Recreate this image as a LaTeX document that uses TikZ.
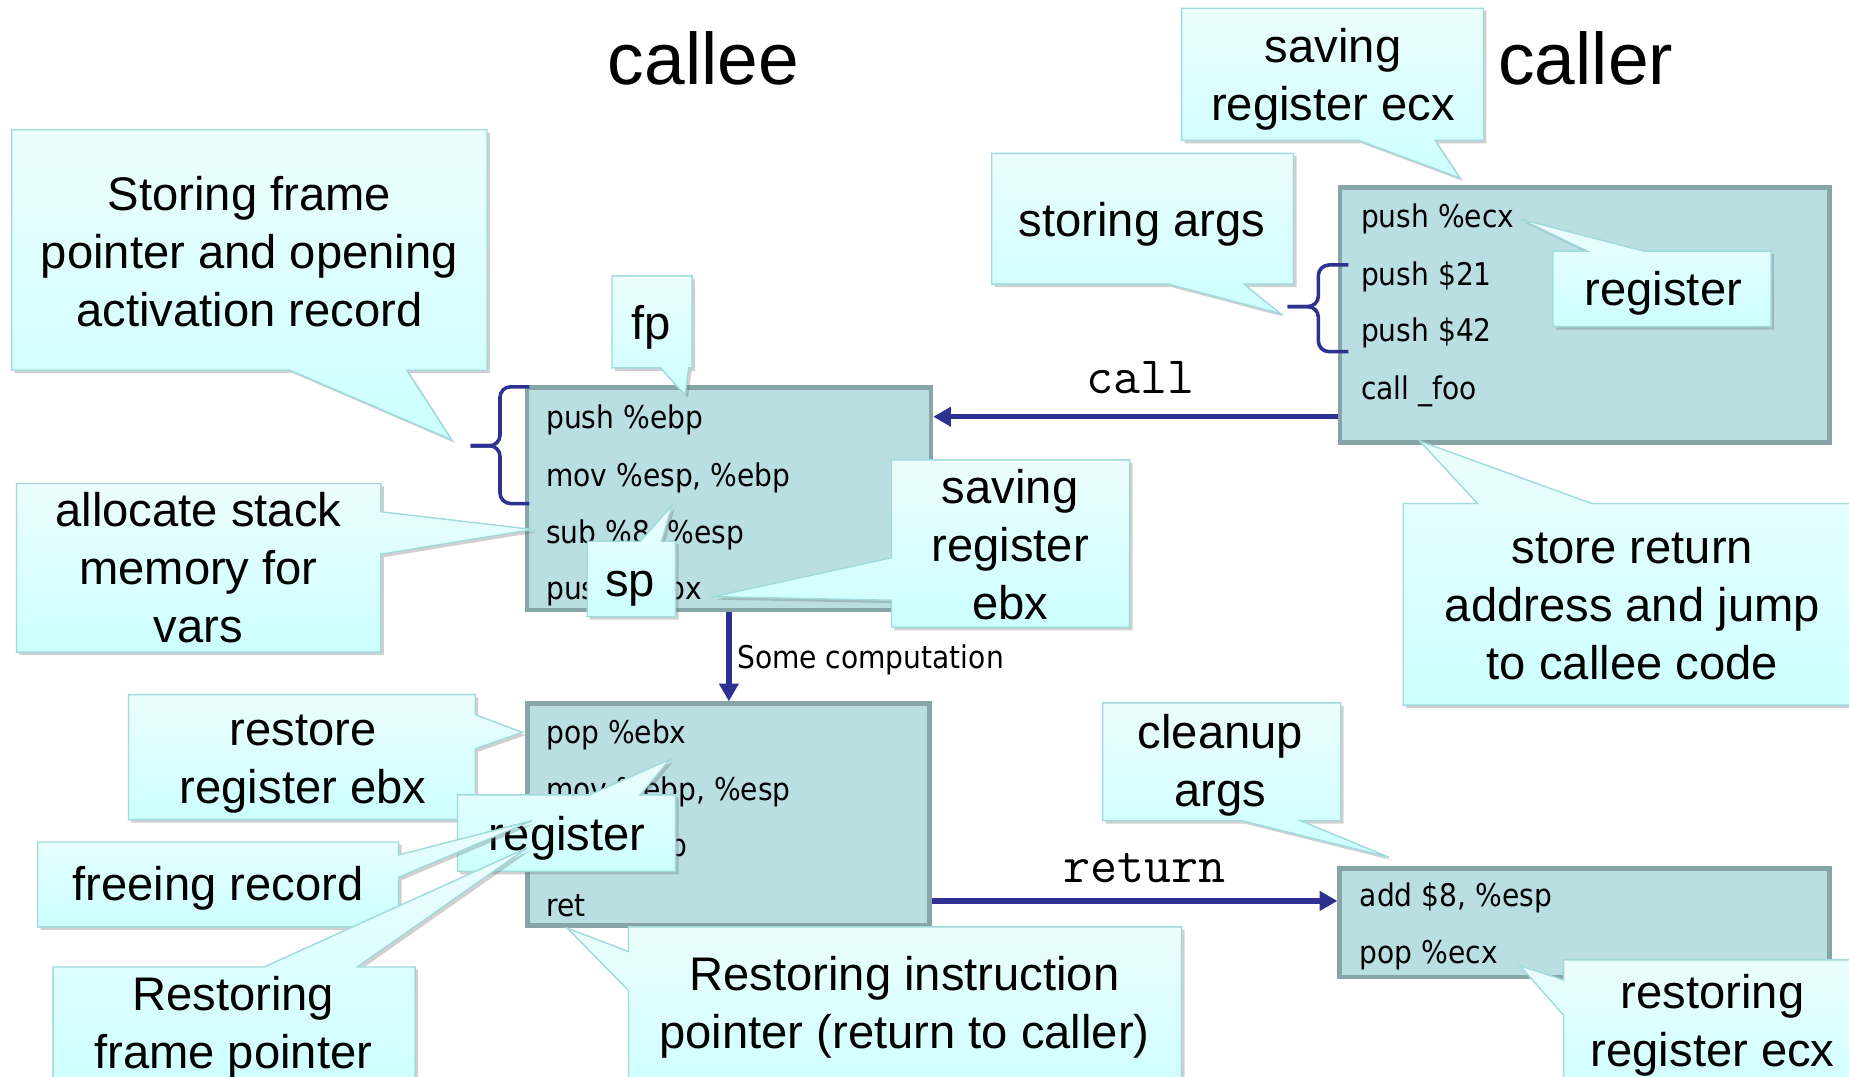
\documentclass[tikz,border=0pt]{standalone}
\usepackage{fontspec}
\setmainfont{Liberation Sans}
\newfontfamily\codefont[FakeStretch=0.9]{DejaVu Sans}
\usetikzlibrary{shadows,arrows.meta}

\definecolor{codefill}{RGB}{185,223,226}
\definecolor{codeline}{RGB}{135,164,166}
\definecolor{tipfill}{RGB}{204,255,255}
\definecolor{tiptop}{RGB}{236,253,253}
\definecolor{tipline}{RGB}{160,218,220}
\definecolor{flow}{RGB}{46,49,146}

% invisible struts fixing the height of the first and the depth of the last line
\newcommand\Hs{\rule{0pt}{30pt}}
\newcommand\Ds{\rule[-10pt]{0pt}{10pt}}

\begin{document}
\begin{tikzpicture}[x=1pt,y=-1pt,
  bubble/.style={draw=tipline, line width=1.2pt, top color=tiptop, bottom color=tipfill,
    drop shadow={shadow xshift=2.5pt, shadow yshift=-2.5pt, opacity=0.3, fill=black!60}},
  btext/.style={font=\fontsize{40}{49}\selectfont, align=center, inner sep=0pt},
  codebox/.style={draw=codeline, fill=codefill, line width=4pt, inner sep=0pt},
  code/.style={font=\codefont\fontsize{26.5}{30}\selectfont, anchor=base west, inner sep=0pt},
  arr/.style={draw=flow, line width=4.5pt, -{Triangle[length=15pt,width=16pt]}},
  brace/.style={draw=flow, line width=3pt, rounded corners=9pt},
  title/.style={font=\fontsize{62}{70}\selectfont, anchor=base, inner sep=0pt},
  jump/.style={font=\ttfamily\fontsize{44.5}{46}\selectfont, anchor=base, inner sep=0pt}]

\clip (0,0) rectangle (1568,913);
\fill[white] (0,0) rectangle (1568,913);

% ---- code blocks ----
\node[codebox, minimum width=342.6pt, minimum height=188.6pt] (callee) at (618.1,422.9) {};
\node[codebox, minimum width=341pt, minimum height=188pt] (epilog) at (617.6,690.7) {};
\node[codebox, minimum width=415pt, minimum height=216.5pt] (caller) at (1343.9,267.2) {};
\node[codebox, minimum width=415.3pt, minimum height=92pt] (cleanup) at (1343.8,782.5) {};

\node[code] (pa1) at (463,363.3) {push \%ebp};
\node[code] (pa2) at (463,412.2) {mov \%esp, \%ebp};
\node[code] (pa3) at (463,460.8) {sub \%8, \%esp};
\node[code] (pa4) at (463,508.8) {push \%ebx};

\node[code] (pb1) at (463,630.4) {pop \%ebx};
\node[code] (pb2) at (463,678.5) {mov \%ebp, \%esp};
\node[code] (pb3) at (463,726.5) {pop \%ebp};
\node[code] (pb4) at (463,776.8) {ret};

\node[code] (pc1) at (1154,192.8) {push \%ecx};
\node[code] (pc2) at (1154,241.7) {push \$21};
\node[code] (pc3) at (1154,289.8) {push \$42};
\node[code] (pc4) at (1154,339.2) {call \_foo};

\node[code] (pd1) at (1153,768.9) {add \$8, \%esp};
\node[code] (pd2) at (1153,817) {pop \%ecx};

% ---- braces ----
\draw[brace] (449,328) -- (424,328) -- (424,378) -- (399,378);
\draw[brace] (449,427) -- (424,427) -- (424,378) -- (399,378);
\draw[brace] (1143.5,224.7) -- (1118,224.7) -- (1118,260) -- (1092,260);
\draw[brace] (1143.5,298.2) -- (1118,298.2) -- (1118,260) -- (1092,260);

% ---- control flow ----
\draw[arr] (caller.west |- 0,353.4) -- (callee.east |- 0,353.4);
\draw[arr] (callee.south) -- (callee.south |- epilog.north);
\draw[arr] (epilog.east |- 0,764) -- (cleanup.west |- 0,764);

\node[jump] (calllbl) at (966.8,334) {call};
\node[jump] (retlbl) at (970.2,748.6) {return};
\node[code] (somecomp) at (625,566.8) {Some computation};

% ---- titles ----
\node[title] (calleetitle) at (596.5,72) {callee};
\node[title] (callertitle) at (1344.7,71.3) {caller};

% ---- callouts ----
\path[bubble] (10,110) -- (413,110) -- (413,314) -- (345,314) -- (383,373) -- (246,314) -- (10,314) -- cycle;
\node[btext] (framenote) at (211.5,217.5) {\Hs Storing frame\\pointer and opening\\activation record\Ds};

\path[bubble] (519,234) -- (587,234) -- (587,312) -- (584,312) -- (581,335) -- (560,312) -- (519,312) -- cycle;
\node[btext] (fpnote) at (552.5,278) {\Hs fp\Ds};

\path[bubble] (14,410) -- (323,410) -- (323,434) -- (452,449) -- (323,470) -- (323,553) -- (14,553) -- cycle;
\node[btext] (allocnote) at (168.3,485.5) {\Hs allocate stack\\memory for\\vars\Ds};

\path[bubble] (498,459) -- (543,459) -- (569.6,429) -- (561,459) -- (573,459) -- (573,523) -- (498,523) -- cycle;
\node[btext] (spnote) at (534.3,496) {\Hs sp\Ds};

\path[bubble] (756,390) -- (958,390) -- (958,532) -- (756,532) -- (756,509) -- (605,506) -- (756,473) -- cycle;
\node[btext] (ebxsave) at (856.6,466) {\Hs saving\\register\\ebx\Ds};

\path[bubble] (1002,7) -- (1258,7) -- (1258,119) -- (1217,119) -- (1238,151) -- (1152,119) -- (1002,119) -- cycle;
\node[btext] (ecxsave) at (1130.5,67.8) {\Hs saving\\register ecx\Ds};

\path[bubble] (841,130) -- (1097,130) -- (1097,241) -- (1055,241) -- (1086,266) -- (991,241) -- (841,241) -- cycle;
\node[btext] (argsnote) at (968.5,190.5) {\Hs storing args\Ds};

\path[bubble] (1317,213) -- (1346,213) -- (1290,186) -- (1394,213) -- (1502,213) -- (1502,277) -- (1317,277) -- cycle;
\node[btext] (regcaller) at (1410.6,248.7) {\Hs register\Ds};

\path[bubble] (1190,427) -- (1253,427) -- (1204,374) -- (1350,427) -- (1585,427) -- (1585,598) -- (1190,598) -- cycle;
\node[btext] (retaddr) at (1384.3,517) {\Hs store return\\address and jump\\to callee code\Ds};

\path[bubble] (109,589) -- (403,589) -- (403,606) -- (443,621) -- (403,635) -- (403,695) -- (109,695) -- cycle;
\node[btext] (ebxrest) at (257,646.6) {\Hs restore\\register ebx\Ds};

\path[bubble] (388,674) -- (500,674) -- (568,644) -- (543,674) -- (573,674) -- (573,739) -- (388,739) -- cycle;
\node[btext] (regcallee) at (480.6,711) {\Hs register\Ds};

\path[bubble] (32,714) -- (338,714) -- (338,725) -- (451,696) -- (338,744) -- (338,786) -- (32,786) -- cycle;
\node[btext] (freenote) at (185,754) {\Hs freeing record\Ds};

\path[bubble] (45,820) -- (224,820) -- (447,719) -- (303,820) -- (352,820) -- (352,935) -- (45,935) -- cycle;
\node[btext] (fprest) at (197.8,871.5) {\Hs Restoring\\frame pointer\Ds};

\path[bubble] (533,786) -- (1002,786) -- (1002,935) -- (533,935) -- (533,840) -- (481,787) -- (533,807) -- cycle;
\node[btext] (iprest) at (767,854.5) {\Hs Restoring instruction\\pointer (return to caller)\Ds};

\path[bubble] (935,596) -- (1137,596) -- (1137,696) -- (1103,696) -- (1178,727) -- (1053,696) -- (935,696) -- cycle;
\node[btext] (argsclean) at (1035,649.5) {\Hs cleanup\\args\Ds};

\path[bubble] (1326,814) -- (1585,814) -- (1585,935) -- (1326,935) -- (1326,861) -- (1289,819) -- (1326,831) -- cycle;
\node[btext] (ecxrest) at (1452.4,869.5) {\Hs restoring\\register ecx\Ds};

\end{tikzpicture}
\end{document}
